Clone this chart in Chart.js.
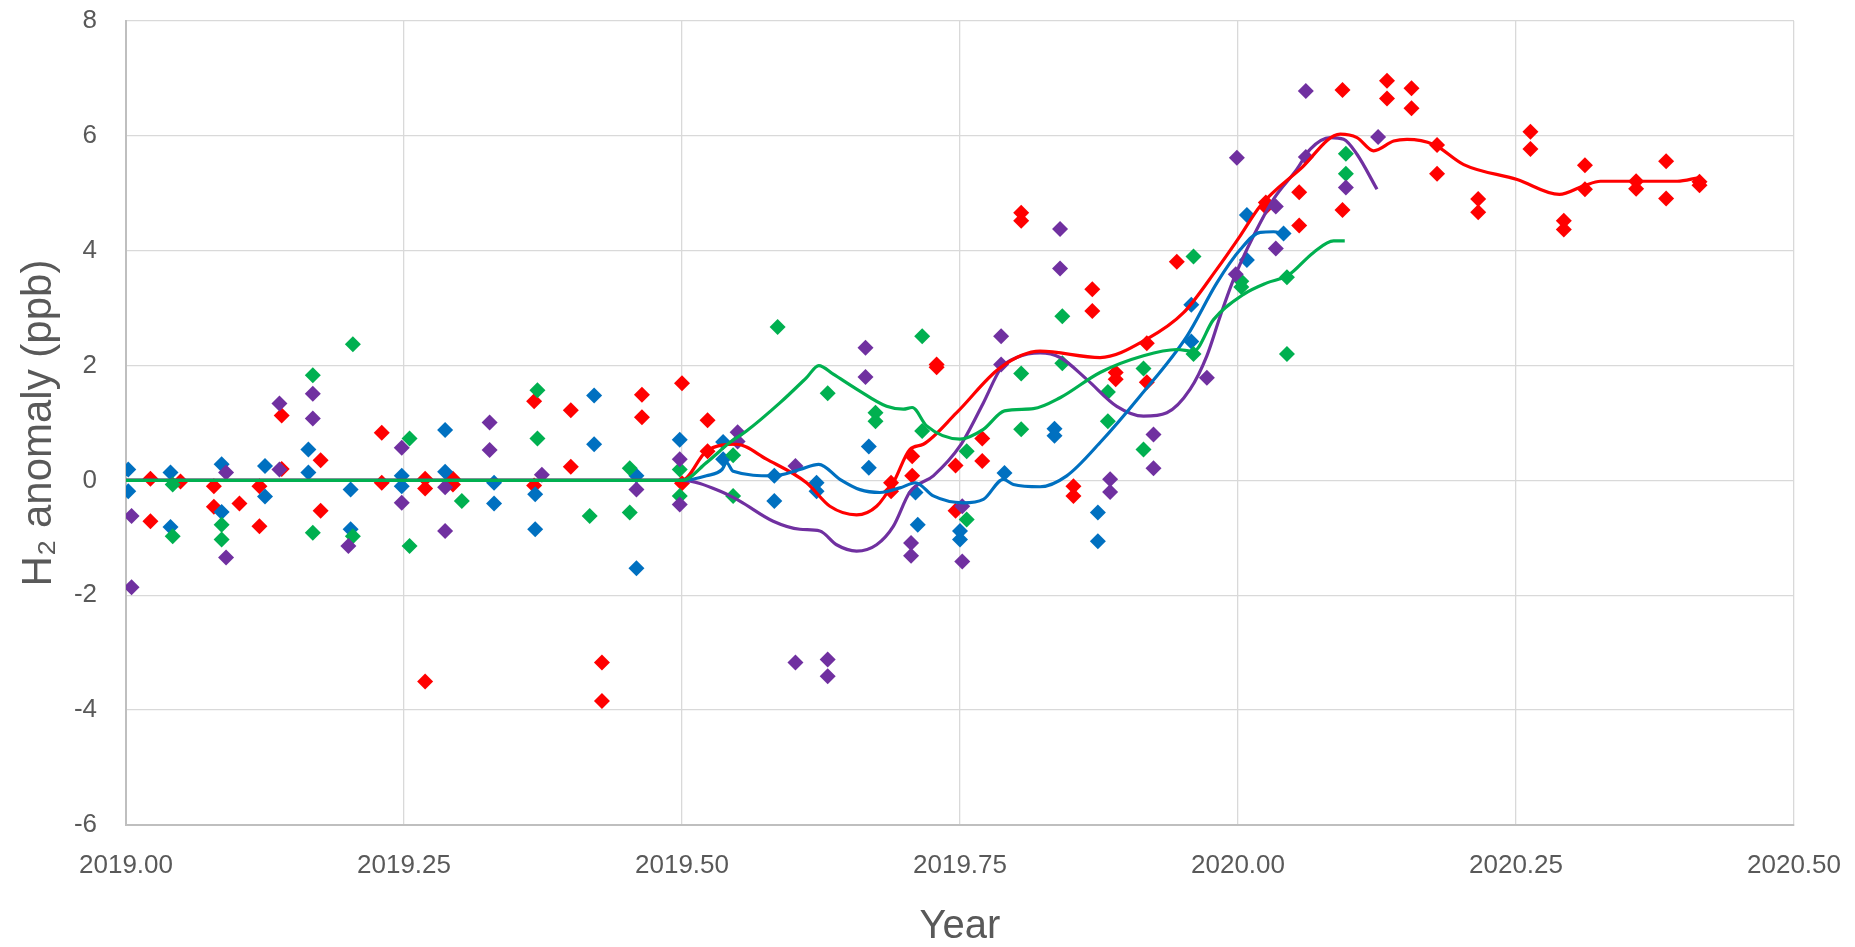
<!DOCTYPE html>
<html>
<head>
<meta charset="utf-8">
<script src="https://cdn.jsdelivr.net/npm/chart.js@4/dist/chart.umd.min.js"></script>
<style>
  html, body { margin: 0; padding: 0; background: #fff; }
  canvas { display: block; }
</style>
</head>
<body>
<canvas id="chart" width="1855" height="947"></canvas>
<script>
// axis ticks
const xTicks = [2019.00, 2019.25, 2019.50, 2019.75, 2020.00, 2020.25, 2020.50];
const yTicks = [-6, -4, -2, 0, 2, 4, 6, 8];

// measured anomalies [year, ppb]
const redPoints = [
  [2019.022,0.03],[2019.022,-0.71],[2019.049,-0.02],[2019.079,-0.1],[2019.079,-0.46],
  [2019.102,-0.4],[2019.12,-0.1],[2019.12,-0.8],[2019.14,1.13],[2019.14,0.2],
  [2019.175,0.35],[2019.175,-0.53],[2019.23,0.83],[2019.23,-0.04],[2019.269,0.03],
  [2019.269,-0.14],[2019.269,-3.5],[2019.294,0.03],[2019.294,-0.07],[2019.367,1.38],
  [2019.367,-0.09],[2019.4,1.22],[2019.4,0.24],[2019.428,-3.17],[2019.428,-3.84],
  [2019.464,1.49],[2019.464,1.1],[2019.5,1.69],[2019.5,-0.05],[2019.523,1.05],
  [2019.523,0.51],[2019.688,-0.04],[2019.688,-0.19],[2019.707,0.42],[2019.707,0.08],
  [2019.729,2.02],[2019.729,1.97],[2019.746,0.26],[2019.746,-0.53],[2019.77,0.73],
  [2019.77,0.34],[2019.805,4.66],[2019.805,4.52],[2019.852,-0.1],[2019.852,-0.27],
  [2019.869,3.33],[2019.869,2.95],[2019.89,1.88],[2019.89,1.76],[2019.918,2.39],
  [2019.918,1.71],[2019.945,3.81],[2020.025,4.84],[2020.025,4.76],[2020.055,5.02],
  [2020.055,4.44],[2020.094,6.8],[2020.094,4.71],[2020.134,6.96],[2020.134,6.65],
  [2020.156,6.83],[2020.156,6.48],[2020.179,5.84],[2020.179,5.34],[2020.216,4.9],
  [2020.216,4.67],[2020.263,6.07],[2020.263,5.77],[2020.293,4.52],[2020.293,4.37],
  [2020.312,5.49],[2020.312,5.07],[2020.358,5.21],[2020.358,5.08],[2020.385,5.56],
  [2020.385,4.91],[2020.415,5.2],[2020.415,5.14]
];
const bluePoints = [
  [2019.002,0.19],[2019.002,-0.19],[2019.04,0.14],[2019.04,-0.81],[2019.086,0.28],
  [2019.086,-0.55],[2019.125,0.25],[2019.125,-0.28],[2019.164,0.54],[2019.164,0.14],
  [2019.202,-0.16],[2019.202,-0.85],[2019.248,0.08],[2019.248,-0.1],[2019.287,0.88],
  [2019.287,0.15],[2019.331,-0.04],[2019.331,-0.4],[2019.368,-0.24],[2019.368,-0.85],
  [2019.421,1.48],[2019.421,0.63],[2019.459,0.08],[2019.459,-1.53],[2019.498,0.71],
  [2019.537,0.67],[2019.537,0.37],[2019.583,0.08],[2019.583,-0.36],[2019.621,-0.04],
  [2019.621,-0.19],[2019.668,0.59],[2019.668,0.22],[2019.71,-0.21],[2019.712,-0.77],
  [2019.75,-0.88],[2019.75,-1.03],[2019.79,0.13],[2019.835,0.9],[2019.835,0.78],
  [2019.874,-0.56],[2019.874,-1.06],[2019.958,3.06],[2019.958,2.42],[2020.008,4.62],
  [2020.008,3.84],[2020.041,4.3]
];
const greenPoints = [
  [2019.042,-0.07],[2019.042,-0.97],[2019.086,-0.77],[2019.086,-1.03],[2019.168,1.83],
  [2019.168,-0.91],[2019.204,2.37],[2019.204,-0.97],[2019.255,0.73],[2019.255,-1.14],
  [2019.302,-0.36],[2019.37,1.57],[2019.37,0.73],[2019.417,-0.62],[2019.453,0.21],
  [2019.453,-0.56],[2019.498,0.19],[2019.498,-0.27],[2019.546,0.44],[2019.546,-0.27],
  [2019.586,2.67],[2019.631,1.52],[2019.674,1.18],[2019.674,1.03],[2019.716,2.51],
  [2019.716,0.86],[2019.756,0.51],[2019.756,-0.68],[2019.805,1.86],[2019.805,0.89],
  [2019.842,2.86],[2019.842,2.04],[2019.883,1.54],[2019.883,1.03],[2019.915,1.95],
  [2019.915,0.54],[2019.96,3.9],[2019.96,2.2],[2020.003,3.47],[2020.003,3.37],
  [2020.044,3.54],[2020.044,2.2],[2020.097,5.69],[2020.097,5.34]
];
const purplePoints = [
  [2019.005,-0.62],[2019.005,-1.86],[2019.09,0.14],[2019.09,-1.34],[2019.138,1.34],
  [2019.138,0.19],[2019.168,1.51],[2019.168,1.08],[2019.2,-1.14],[2019.248,0.57],
  [2019.248,-0.39],[2019.287,-0.12],[2019.287,-0.88],[2019.327,1.01],[2019.327,0.53],
  [2019.374,0.1],[2019.459,-0.16],[2019.498,0.37],[2019.498,-0.42],[2019.55,0.84],
  [2019.55,0.68],[2019.602,0.25],[2019.602,-3.17],[2019.631,-3.12],[2019.631,-3.41],
  [2019.665,2.31],[2019.665,1.8],[2019.706,-1.09],[2019.706,-1.31],[2019.752,-0.45],
  [2019.752,-1.41],[2019.787,2.51],[2019.787,2.02],[2019.84,4.38],[2019.84,3.69],
  [2019.885,0.02],[2019.885,-0.2],[2019.924,0.8],[2019.924,0.21],[2019.972,1.79],
  [2019.999,5.62],[2019.998,3.59],[2020.034,4.77],[2020.034,4.04],[2020.061,6.78],
  [2020.061,5.63],[2020.097,5.1],[2020.126,5.98]
];

// smoothed curves [year, ppb]
const redLine = [
  [2019.0,0],[2019.5,0],[2019.522,0.51],[2019.549,0.63],[2019.576,0.37],[2019.612,-0.04],
  [2019.633,-0.45],[2019.657,-0.6],[2019.675,-0.45],[2019.69,-0.04],[2019.705,0.54],
  [2019.717,0.63],[2019.747,1.18],[2019.786,1.96],[2019.822,2.25],[2019.876,2.14],
  [2019.918,2.46],[2019.951,2.92],[2019.981,3.68],[2020.002,4.26],[2020.02,4.78],
  [2020.056,5.42],[2020.092,6.03],[2020.107,5.97],[2020.122,5.74],[2020.14,5.91],
  [2020.152,5.94],[2020.176,5.85],[2020.203,5.5],[2020.251,5.24],[2020.289,4.98],
  [2020.311,5.13],[2020.326,5.21],[2020.395,5.21],[2020.414,5.27]
];
const blueLine = [
  [2019.0,0],[2019.5,0],[2019.522,0.08],[2019.536,0.19],[2019.54,0.31],[2019.546,0.16],
  [2019.582,0.08],[2019.606,0.19],[2019.623,0.28],[2019.642,0.02],[2019.66,-0.16],
  [2019.678,-0.21],[2019.696,-0.13],[2019.71,-0.04],[2019.726,-0.27],[2019.753,-0.39],
  [2019.771,-0.33],[2019.789,0.02],[2019.798,-0.07],[2019.822,-0.11],[2019.846,0.08],
  [2019.876,0.66],[2019.912,1.47],[2019.954,2.51],[2019.981,3.44],[2020.002,4.02],
  [2020.02,4.32],[2020.032,4.33],[2020.041,4.3]
];
const purpleLine = [
  [2019.0,0],[2019.5,0],[2019.537,-0.21],[2019.552,-0.36],[2019.582,-0.71],[2019.606,-0.85],
  [2019.624,-0.88],[2019.639,-1.12],[2019.657,-1.23],[2019.675,-1.12],[2019.69,-0.8],
  [2019.705,-0.2],[2019.726,0.08],[2019.75,0.6],[2019.771,1.35],[2019.787,1.96],
  [2019.801,2.14],[2019.822,2.22],[2019.84,2.14],[2019.864,1.76],[2019.891,1.29],
  [2019.915,1.12],[2019.936,1.18],[2019.957,1.59],[2019.972,2.17],[2019.984,2.86],
  [2019.996,3.5],[2020.014,4.26],[2020.032,4.9],[2020.053,5.42],[2020.065,5.77],
  [2020.083,5.97],[2020.095,5.94],[2020.107,5.68],[2020.125,5.07]
];
const greenLine = [
  [2019.0,0],[2019.5,0],[2019.522,0.31],[2019.543,0.66],[2019.558,0.86],[2019.588,1.35],
  [2019.612,1.79],[2019.623,2.0],[2019.636,1.85],[2019.657,1.59],[2019.684,1.29],
  [2019.699,1.24],[2019.707,1.27],[2019.72,0.95],[2019.75,0.72],[2019.771,0.89],
  [2019.79,1.21],[2019.816,1.25],[2019.84,1.44],[2019.876,1.88],[2019.915,2.17],
  [2019.945,2.28],[2019.96,2.25],[2019.978,2.8],[2020.005,3.24],[2020.026,3.44],
  [2020.045,3.57],[2020.068,3.97],[2020.086,4.17],[2020.096,4.17]
];

const RED = "#FF0000", BLUE = "#0070C0", GREEN = "#00B050", PURPLE = "#7030A0";
const toXY = arr => arr.map(p => ({ x: p[0], y: p[1] }));

function lineSet(pts, color){
  return { data: toXY(pts), showLine: true, borderColor: color, borderWidth: 3.2,
           pointRadius: 0, cubicInterpolationMode: "monotone", fill: false };
}
function dotSet(pts, color){
  return { data: toXY(pts), showLine: false, pointStyle: "rectRot", pointRadius: 8,
           backgroundColor: color, borderColor: color, borderWidth: 0 };
}

const FAMILY = "'Liberation Sans', Arial, sans-serif";
const tickFont = { family: FAMILY, size: 26 };

new Chart(document.getElementById("chart"), {
  type: "scatter",
  data: {
    datasets: [
      lineSet(greenLine, GREEN),
      lineSet(blueLine, BLUE),
      lineSet(redLine, RED),
      lineSet(purpleLine, PURPLE),
      dotSet(purplePoints, PURPLE),
      dotSet(greenPoints, GREEN),
      dotSet(bluePoints, BLUE),
      dotSet(redPoints, RED)
    ]
  },
  options: {
    responsive: false,
    animation: false,
    layout: { padding: { top: 21, right: 61, left: 0, bottom: 0 } },
    plugins: { legend: { display: false }, tooltip: { enabled: false } },
    scales: {
      x: {
        type: "linear", min: 2019, max: 2020.5,
        afterBuildTicks: s => { s.ticks = xTicks.map(v => ({ value: v })); },
        afterFit: s => { s.height = 122; s.paddingLeft = 0; s.paddingRight = 0; },
        grid: { color: "#d9d9d9", lineWidth: 1.3, drawTicks: false },
        border: { color: "#bfbfbf", width: 2 },
        ticks: { color: "#595959", font: tickFont, padding: 25, maxRotation: 0,
                 callback: v => Number(v).toFixed(2) },
        title: { display: true, text: "Year", color: "#595959",
                 font: { family: FAMILY, size: 40, lineHeight: 1 }, padding: { top: 0, bottom: 0 } }
      },
      y: {
        type: "linear", min: -6, max: 8,
        afterBuildTicks: s => { s.ticks = yTicks.map(v => ({ value: v })); },
        afterFit: s => { s.width = 126; s.paddingTop = 0; s.paddingBottom = 0; },
        grid: { color: "#d9d9d9", lineWidth: 1.3, drawTicks: false },
        border: { color: "#bfbfbf", width: 2 },
        ticks: { color: "#595959", font: tickFont, padding: 29 },
        title: { display: true, text: "H\u2082 anomaly (ppb)", color: "#595959",
                 font: { family: FAMILY, size: 42, lineHeight: 1 }, padding: { top: 18, bottom: 0 } }
      }
    }
  }
});
</script>
</body>
</html>
